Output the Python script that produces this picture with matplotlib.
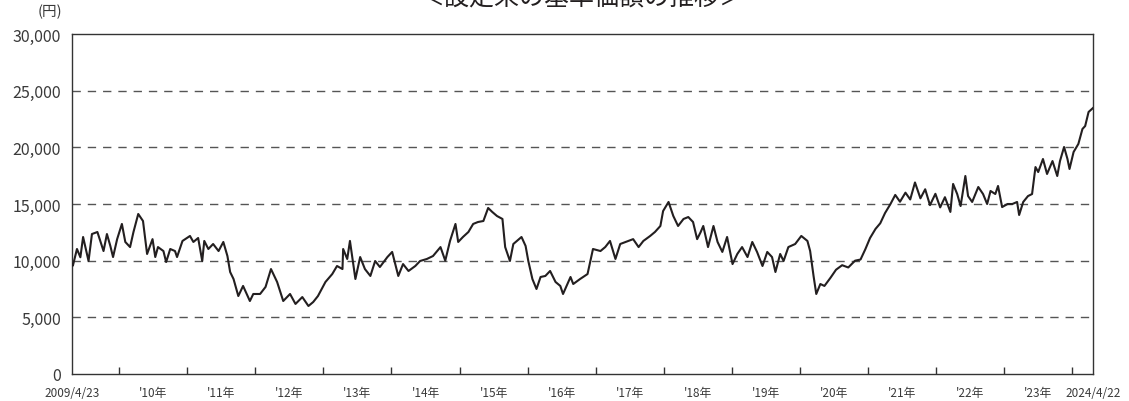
import numpy as np
import matplotlib
matplotlib.use("Agg")
import matplotlib.pyplot as plt
from matplotlib.ticker import FixedLocator, NullFormatter

plt.rcParams['font.family'] = ['Noto Sans CJK JP', 'DejaVu Sans']

# decimal year / base price (yen)
years = [2009.31, 2009.32, 2009.38, 2009.43, 2009.47, 2009.55, 2009.60, 2009.68, 2009.77, 2009.82,
         2009.87, 2009.91, 2009.97, 2010.04, 2010.09, 2010.16, 2010.21, 2010.28, 2010.35, 2010.41,
         2010.49, 2010.53, 2010.57, 2010.65, 2010.69, 2010.75, 2010.82, 2010.85, 2010.93, 2011.04,
         2011.09, 2011.16, 2011.22, 2011.25, 2011.31, 2011.38, 2011.46, 2011.53, 2011.59, 2011.63,
         2011.68, 2011.75, 2011.82, 2011.92, 2011.97, 2012.07, 2012.15, 2012.23, 2012.32, 2012.41,
         2012.51, 2012.59, 2012.69, 2012.78, 2012.85, 2012.92, 2013.03, 2013.13, 2013.20, 2013.28,
         2013.29, 2013.35, 2013.39, 2013.47, 2013.54, 2013.61, 2013.69, 2013.76, 2013.83, 2013.94,
         2014.01, 2014.10, 2014.17, 2014.25, 2014.35, 2014.42, 2014.52, 2014.61, 2014.72, 2014.79,
         2014.86, 2014.94, 2014.98, 2015.05, 2015.13, 2015.20, 2015.27, 2015.35, 2015.42, 2015.48,
         2015.55, 2015.63, 2015.67, 2015.74, 2015.79, 2015.91, 2015.97, 2016.01, 2016.07, 2016.13,
         2016.19, 2016.26, 2016.33, 2016.41, 2016.48, 2016.52, 2016.63, 2016.67, 2016.77, 2016.88,
         2016.96, 2017.07, 2017.14, 2017.21, 2017.29, 2017.36, 2017.48, 2017.55, 2017.63, 2017.70,
         2017.80, 2017.87, 2017.95, 2017.99, 2018.07, 2018.14, 2018.21, 2018.29, 2018.36, 2018.43,
         2018.49, 2018.54, 2018.58, 2018.65, 2018.73, 2018.79, 2018.86, 2018.93, 2019.01, 2019.08,
         2019.15, 2019.23, 2019.30, 2019.37, 2019.45, 2019.52, 2019.59, 2019.64, 2019.71, 2019.76,
         2019.83, 2019.93, 2020.02, 2020.11, 2020.15, 2020.20, 2020.24, 2020.30, 2020.36, 2020.45,
         2020.53, 2020.62, 2020.71, 2020.81, 2020.89, 2020.96, 2021.03, 2021.11, 2021.18, 2021.25,
         2021.33, 2021.40, 2021.47, 2021.55, 2021.62, 2021.69, 2021.77, 2021.84, 2021.91, 2021.99,
         2022.06, 2022.13, 2022.21, 2022.25, 2022.31, 2022.36, 2022.43, 2022.47, 2022.53, 2022.62,
         2022.69, 2022.75, 2022.80, 2022.87, 2022.91, 2022.97, 2023.05, 2023.12, 2023.19, 2023.22,
         2023.28, 2023.35, 2023.41, 2023.46, 2023.50, 2023.57, 2023.63, 2023.71, 2023.78, 2023.82,
         2023.88, 2023.93, 2023.96, 2024.02, 2024.09, 2024.15, 2024.19, 2024.24, 2024.305]

prices = [9700, 9560, 11030, 10300, 12090, 9970, 12350, 12530, 10850, 12350,
          11300, 10320, 11900, 13240, 11650, 11200, 12530, 14120, 13500, 10590,
          11900, 10320, 11200, 10850, 9880, 11030, 10850, 10320, 11740, 12180,
          11650, 12000, 9970, 11740, 11030, 11470, 10850, 11650, 10410, 9000,
          8380, 6880, 7770, 6440, 7060, 7060, 7680, 9260, 8120, 6440,
          7060, 6180, 6790, 6000, 6350, 6880, 8120, 8820, 9530, 9260,
          11030, 10150, 11740, 8380, 10320, 9260, 8650, 9970, 9440, 10320,
          10770, 8650, 9700, 9090, 9530, 9970, 10150, 10410, 11200, 10000,
          11740, 13240, 11650, 12090, 12530, 13240, 13410, 13500, 14650, 14300,
          13940, 13680, 11200, 9970, 11470, 12090, 11300, 9970, 8380, 7500,
          8560, 8650, 9090, 8120, 7770, 7060, 8560, 7940, 8380, 8820,
          11030, 10850, 11200, 11740, 10150, 11470, 11740, 11900, 11200, 11740,
          12180, 12530, 13060, 14380, 15180, 13940, 13060, 13680, 13850, 13410,
          11900, 12500, 13060, 11200, 13060, 11650, 10770, 12090, 9700, 10590,
          11200, 10320, 11650, 10770, 9530, 10770, 10320, 9000, 10590, 9970,
          11200, 11470, 12180, 11740, 10850, 8650, 7060, 7940, 7770, 8500,
          9200, 9600, 9400, 10000, 10100, 11000, 12000, 12800, 13300, 14200,
          15000, 15800, 15200, 16000, 15400, 16900, 15500, 16300, 14900, 15900,
          14700, 15600, 14300, 16770, 15880, 14820, 17470, 15700, 15180, 16500,
          15880, 15000, 16150, 15880, 16590, 14730, 15000, 15000, 15180, 14030,
          15180, 15700, 15880, 18260, 17820, 18970, 17650, 18790, 17470, 18790,
          20030, 18970, 18090, 19590, 20300, 21620, 21880, 23120, 23470]

start_year, end_year = 2009.307, 2024.305
year_ticks = list(range(2010, 2025))
label_pos = [start_year] + [y + 0.5 for y in range(2010, 2024)] + [end_year]
label_txt = ['2009/4/23'] + ["'%02d年" % (y % 100) for y in range(2010, 2024)] + ['2024/4/22']
y_ticks = [0, 5000, 10000, 15000, 20000, 25000, 30000]

fig = plt.figure(figsize=(11.29, 4.02), dpi=100)
ax = fig.add_axes([72/1129, 1 - 375/402, 1021/1129, 340/402])

for g in y_ticks[1:-1]:
    ax.axhline(g, color='#555555', lw=1.0, ls=(0, (6, 5)), zorder=1)

ax.plot(years, prices, color='#231f20', lw=1.5, zorder=3)

ax.set_xlim(start_year, end_year)
ax.set_ylim(0, 30000)
ax.set_yticks(y_ticks)
ax.set_yticklabels(['{:,}'.format(v) for v in y_ticks])
ax.tick_params(axis='y', length=0, pad=8, labelsize=11.5, labelcolor='#3a3a3a')

ax.xaxis.set_major_locator(FixedLocator(year_ticks))
ax.xaxis.set_major_formatter(NullFormatter())
ax.xaxis.set_minor_locator(FixedLocator(label_pos))
ax.set_xticklabels(label_txt, minor=True)
ax.tick_params(axis='x', which='major', direction='in', length=5, width=1, color='#333333')
ax.tick_params(axis='x', which='minor', length=0, pad=9, labelsize=8.5, labelcolor='#3a3a3a')

for s in ax.spines.values():
    s.set_color('#333333')
    s.set_linewidth(1.0)

fig.text(62/1129, 1 - 12/402, '(円)', ha='right', va='center', fontsize=10.5, color='#3a3a3a')
fig.text(582/1129, 1 - 11/402, '＜設定来の基準価額の推移＞', ha='center', va='bottom',
         fontsize=18, color='#231f20')

fig.savefig('out.png', dpi=100)
